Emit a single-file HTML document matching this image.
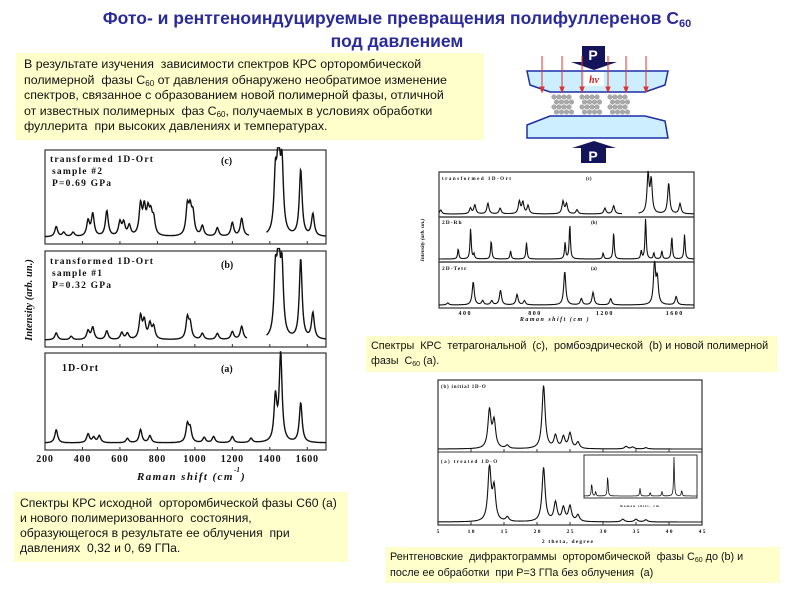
<!DOCTYPE html>
<html><head><meta charset="utf-8">
<style>
body{margin:0;width:794px;height:595px;background:#fff;position:relative;overflow:hidden;font-family:"Liberation Sans","Noto Sans CJK SC",sans-serif}
.box{position:absolute;background:#ffffcc;color:#111;}
.title{position:absolute;left:0;width:794px;text-align:center;color:#2a2a9a;font-weight:bold;font-size:17.5px;line-height:23px;top:7px}
sub{line-height:0;vertical-align:-0.25em}
svg text{font-family:"Liberation Serif",serif}
</style></head><body>
<div class="title">Фото- и рентгеноиндуцируемые превращения полифуллеренов C<sub style="font-size:11px">60</sub><br>под давлением</div>
<div class="box" style="left:16px;top:53px;width:452px;height:77px;padding:4px 8px 6px 8px;font-size:12.4px;line-height:15.5px"><div style="width:445px">В результате изучения&nbsp; зависимости спектров КРС орторомбической полимерной&nbsp; фазы C<sub style="font-size:8px">60</sub> от давления обнаружено необратимое изменение спектров, связанное с образованием новой полимерной фазы, отличной<br>от известных полимерных&nbsp; фаз C<sub style="font-size:8px">60</sub>, получаемых в условиях обработки фуллерита&nbsp; при высоких давлениях и температурах.</div></div>
<div class="box" style="left:14px;top:492px;width:322px;height:62px;padding:4px 6px;font-size:12.2px;line-height:15px">Спектры КРС исходной&nbsp; орторомбической фазы C60 (a) и нового полимеризованного&nbsp; состояния, образующегося в результате ее облучения&nbsp; при давлениях&nbsp; 0,32 и 0, 69 ГПа.</div>
<div class="box" style="left:366px;top:336px;width:402px;height:30px;padding:3px 5px;font-size:10.8px;line-height:15px">Спектры&nbsp; КРС&nbsp; тетрагональной&nbsp; (c),&nbsp; ромбоэдрической&nbsp; (b) и новой полимерной фазы&nbsp; C<sub style="font-size:7px">60</sub> (a).</div>
<div class="box" style="left:385px;top:547px;width:385px;height:32px;padding:2px 5px;font-size:10.8px;line-height:16px">Рентгеновские&nbsp; дифрактограммы&nbsp; орторомбической&nbsp; фазы C<sub style="font-size:7px">60</sub> до (b) и после ее обработки&nbsp; при P=3 ГПа без облучения&nbsp; (а)</div>

<svg id="s" width="794" height="595" style="position:absolute;left:0;top:0">
 <g>
  <polygon points="527,71 668,71 665,85 645,92 550,92 530,85" fill="#cceeff" stroke="#1d2ea8" stroke-width="1.5"/>
  <polygon points="527,125 550,116 645,116 665,121 668,138 527,138" fill="#cceeff" stroke="#1d2ea8" stroke-width="1.5"/>
  <rect x="582" y="46" width="23" height="17" fill="#14145a"/><polygon points="571,62 617,62 594,70" fill="#14145a"/>
  <text x="593" y="60" fill="#fff" font-size="14" font-weight="bold" text-anchor="middle" style="font-family:'Liberation Sans'">P</text>
  <polygon points="572,148 616,148 594,141" fill="#14145a"/><rect x="581" y="147" width="25" height="16" fill="#14145a"/>
  <text x="593" y="161" fill="#fff" font-size="14" font-weight="bold" text-anchor="middle" style="font-family:'Liberation Sans'">P</text>
  <rect x="584" y="72" width="20" height="14" fill="#fff"/>
  <text x="594" y="83" fill="#cc2222" font-size="10" font-style="italic" font-weight="bold" text-anchor="middle">hν</text>
  <g id="arrows" stroke="#dd3333" stroke-width="1"></g>
  <g id="balls" fill="#aaaaaa" stroke="#888"></g>
 </g>
</svg>
<script>
// ---------- data ----------
const mainCPos=[260,300,350,430,455,530,600,620,650,710,730,750,765,780,960,975,990,1040,1120,1200,1250,1430,1447,1465,1565,1630];
const mainCAmp=[.12,.05,.05,.18,.26,.3,.16,.15,.12,.35,.3,.26,.22,.18,.33,.28,.24,.12,.1,.16,.21,.65,1.0,.78,.78,.26];
const mainBPos=[260,340,430,455,530,610,640,710,730,760,780,960,975,1040,1120,1200,1250,1430,1447,1465,1565,1630];
const mainBAmp=[.08,.04,.1,.14,.1,.08,.07,.26,.2,.17,.14,.24,.17,.07,.07,.09,.15,.7,1.0,.75,.92,.3];
const mainAPos=[260,430,460,490,640,710,760,960,975,1050,1100,1200,1300,1430,1458,1565];
const mainAAmp=[.15,.1,.06,.08,.05,.15,.08,.2,.15,.06,.07,.07,.05,.5,1.0,.45];
const trCPos=[260,430,455,530,600,710,730,760,960,980,1040,1200,1250,1447,1465,1565,1630];
const trCAmp=[.1,.14,.22,.26,.14,.3,.28,.2,.3,.24,.1,.14,.2,.95,.8,.75,.25];
const trBPos=[360,431,450,549,660,751,972,999,1190,1250,1408,1433,1480,1526,1583,1656];
const trBAmp=[.25,.75,.12,.45,.2,.4,.4,.85,.15,.65,.2,1.0,.15,.2,.55,.6];
const trAPos=[300,446,500,552,602,697,739,970,1065,1132,1233,1484,1500,1608];
const trAAmp=[.05,.55,.1,.1,.35,.25,.1,.8,.15,.3,.15,1.0,.6,.2];
const xrdBPos=[12.8,13.5,15.5,21.0,22.8,24,25,26.2,33.5,34.5,36.5];
const xrdBAmp=[.6,.42,.05,1.0,.2,.18,.24,.1,.04,.03,.02];
const xrdAPos=[12.8,13.5,15.5,21.0,22.8,24,25,26.2,33,35,36.5];
const xrdAAmp=[1.0,.6,.08,1.0,.35,.25,.28,.12,.05,.05,.04];
const insetPos=[349,400,554,969,1100,1250,1405,1504];
const insetAmp=[.35,.12,.55,.2,.1,.12,1.0,.15];
const mainTicks=[200,400,600,800,1000,1200,1400,1600];
const trTicks=[400,800,1200,1600];
const xrdTicks=[5,10,15,20,25,30,35,40,45];
const xrdTickLabels=["5","1 0","1 5","2 0","2 5","3 0","3 5","4 0","4 5"];

const NS="http://www.w3.org/2000/svg";
const S=document.getElementById('s');
function mk(tag,attrs,parent){const e=document.createElementNS(NS,tag);for(const k in attrs)e.setAttribute(k,attrs[k]);(parent||S).appendChild(e);return e;}
function txt(x,y,s,size,extra,name){const t=mk('text',Object.assign({x:x,y:y,'font-size':size,'font-weight':'bold',fill:'#111'},extra||{}));t.textContent=s;


return t;}
function scale(d0,d1,r0,r1){return v=>r0+(v-d0)/(d1-d0)*(r1-r0);}
function spectrum(pos,amp,wid,X,y0,y1,d0,d1,gap,name,sw){
 let d='',pen=false;const n=Math.round((X(d1)-X(d0))*2);
 for(let i=0;i<=n;i++){const v=d0+(d1-d0)*i/n;
  if(gap&&v>gap[0]&&v<gap[1]){pen=false;continue;}
  let s=0;for(let k=0;k<pos.length;k++){const q=(v-pos[k])/wid;s+=amp[k]/(1+q*q);}
  s=Math.min(s,1.05);
  const y=y0-s*(y0-y1);d+=(pen?'L':'M')+X(v).toFixed(1)+','+y.toFixed(1);pen=true;}
 const p=mk('path',{d:d,fill:'none',stroke:'#111','stroke-width':sw||1});
 
 
}
function frame(x0,y0,x1,y1,name){const r=mk('rect',{x:x0,y:y0,width:x1-x0,height:y1-y0,fill:'none',stroke:'#333','stroke-width':1.2});

}

// ---------- main chart ----------
const MX=scale(200,1700,45,326);
[[150,244,mainCPos,mainCAmp,'c',[1290,1380]],[251,347,mainBPos,mainBAmp,'b',[1280,1380]],[353,450,mainAPos,mainAAmp,'a',null]].forEach(p=>{
 frame(45,p[0],326,p[1],'main-panel-'+p[4]);
 spectrum(p[2],p[3],9,MX,p[1]-7,p[0]+2,200,1700,p[5],'main-spectrum-'+p[4],1.4);
 for(const t of mainTicks){mk('line',{x1:MX(t),x2:MX(t),y1:p[1],y2:p[1]-3,stroke:'#333'});}
});
txt(50,162,'transformed 1D-Ort',9.5,{'letter-spacing':'1.2'},'label-c-1');txt(52,174,'sample #2',9.5,{'letter-spacing':'1.2'},'label-c-2');txt(52,186,'P=0.69 GPa',9.5,{'letter-spacing':'1.2'},'label-c-3');
txt(221,164,'(c)',10,{},'panel-c-tag');
txt(50,264,'transformed 1D-Ort',9.5,{'letter-spacing':'1.2'},'label-b-1');txt(52,276,'sample #1',9.5,{'letter-spacing':'1.2'},'label-b-2');txt(52,288,'P=0.32 GPa',9.5,{'letter-spacing':'1.2'},'label-b-3');
txt(221,268,'(b)',10,{},'panel-b-tag');
txt(62,371,'1D-Ort',10,{'letter-spacing':'1'},'label-a');txt(221,372,'(a)',10,{},'panel-a-tag');
for(const t of mainTicks)txt(MX(t),462,String(t),10,{'text-anchor':'middle','letter-spacing':'0.8'},'main-x-tick-'+t);
txt(137,480,'Raman shift (cm',11,{'font-style':'italic','letter-spacing':'1.4'},'main-x-axis-title');
txt(241,480,')',11,{'font-style':'italic'},'main-x-axis-paren');txt(234,472,'-1',7,{'font-style':'italic'},'main-x-axis-sup');
txt(32,300,'Intensity (arb. un.)',10.5,{'text-anchor':'middle','font-style':'italic',transform:'rotate(-90 32 300)'},'main-y-axis-title');

// ---------- top-right chart ----------
const TX=scale(250,1710,439,694);
[[172,217,trCPos,trCAmp,'c'],[217,262,trBPos,trBAmp,'b'],[262,308,trAPos,trAAmp,'a']].forEach(p=>{
 frame(439,p[0],694,p[1],'tr-panel-'+p[4]);
 spectrum(p[2],p[3],p[4]==='b'?4:7,TX,p[1]-3,p[0]+1,250,1710,p[4]==='c'?[1300,1390]:null,'tr-spectrum-'+p[4],1.1);
});
txt(442,180,'transformed 1D-Ort',5,{'letter-spacing':'1.5'},'tr-label-c');txt(586,180,'(c)',5,{},'tr-tag-c');
txt(442,224,'2D-Rh',5.5,{'letter-spacing':'1'},'tr-label-b');txt(591,224,'(b)',5,{},'tr-tag-b');
txt(442,270,'2D-Tetr',5.5,{'letter-spacing':'1'},'tr-label-a');txt(591,270,'(a)',5,{},'tr-tag-a');
for(const t of trTicks)txt(TX(t),315,String(t),6,{'text-anchor':'middle','letter-spacing':'1.5'},'tr-x-tick-'+t);
txt(555,321,'Raman shift (cm  )',6,{'text-anchor':'middle','font-style':'italic','letter-spacing':'1.5'},'tr-x-axis-title');
txt(424,240,'Intensity (arb. un.)',5.5,{'text-anchor':'middle','font-style':'italic',transform:'rotate(-90 424 240)'},'tr-y-axis-title');

// ---------- XRD chart ----------
const XX=scale(5,45,438,702);
frame(438,380,702,525,'xrd-frame');
mk('line',{x1:438,x2:702,y1:452,y2:452,stroke:'#333'});
spectrum(xrdBPos,xrdBAmp,0.28,XX,449,386,5,45,null,'xrd-initial-curve',1.1);
spectrum(xrdAPos,xrdAAmp,0.28,XX,522,468,5,45,null,'xrd-treated-curve',1.1);
for(const t of xrdTicks){mk('line',{x1:XX(t),x2:XX(t),y1:525,y2:522,stroke:'#333'});mk('line',{x1:XX(t),x2:XX(t),y1:452,y2:449,stroke:'#333'});}
xrdTicks.forEach((t,i)=>txt(XX(t),533,xrdTickLabels[i],5.5,{'text-anchor':'middle'},'xrd-x-tick-'+t));
txt(568,543,'2 theta, degree',5.5,{'text-anchor':'middle','letter-spacing':'1.2'},'xrd-x-axis-title');
txt(441,388,'(b)  initial 1D-O',5,{'letter-spacing':'0.8'},'xrd-label-b');
txt(441,463,'(a)  treated 1D-O',5,{'letter-spacing':'1.4'},'xrd-label-a');
mk('rect',{x:584,y:455,width:113,height:43,fill:'#fff',stroke:'#333','stroke-width':1});
const IX=scale(250,1700,584,697);
spectrum(insetPos,insetAmp,6,IX,496,457,250,1700,null,'xrd-inset-raman',0.8);
txt(640,507,'Raman shift, cm',3.5,{'text-anchor':'middle','letter-spacing':'1'},'inset-x-title');

// ---------- diagram details ----------
const A=document.getElementById('arrows');
for(const x of [542,562,582,608,626,646]){mk('line',{x1:x,x2:x,y1:56,y2:90},A);mk('polygon',{points:(x-2)+',87 '+(x+2)+',87 '+x+',92',fill:'#dd3333'},A);}
const B=document.getElementById('balls');
for(let g=0;g<3;g++)for(let r=0;r<4;r++)for(let c=0;c<4;c++){mk('circle',{cx:554+g*28+c*5+(r%2)*2.5,cy:97+r*5,r:2.3,'stroke-width':0.4},B);}
</script>
</body></html>
